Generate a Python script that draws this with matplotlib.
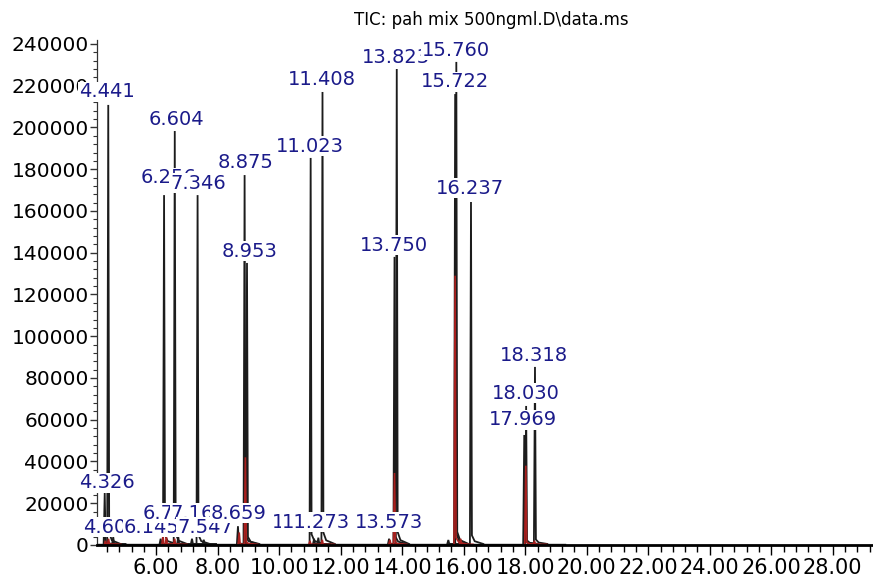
import matplotlib
matplotlib.use("Agg")
import matplotlib.pyplot as plt
from matplotlib.ticker import MultipleLocator, FormatStrFormatter

# labelled peaks of the TIC trace (retention time, apex abundance)
peak_rt = [4.326, 4.441, 4.603, 6.145, 6.256, 6.604, 6.717, 7.164, 7.346, 7.547,
           8.659, 8.875, 8.953, 11.023, 11.135, 11.273, 11.408, 13.573, 13.750,
           13.823, 15.722, 15.760, 16.237, 17.969, 18.030, 18.318]
peak_height = [24900, 210800, 3800, 3000, 167600, 198300, 4000, 3000, 167600, 2500,
               9000, 177200, 135100, 185400, 3000, 3500, 217000, 3000, 138000,
               228000, 216000, 231400, 164300, 52700, 66600, 85300]
peak_label = ["4.326", "4.441", "4.603", "6.145", "6.256", "6.604", "6.717", "7.164",
              "7.346", "7.547", "8.659", "8.875", "8.953", "11.023", "11.135", "11.273",
              "11.408", "13.573", "13.750", "13.823", "15.722", "15.760", "16.237",
              "17.969", "18.030", "18.318"]

# unlabelled bumps of the TIC trace
extra_rt = [15.50]
extra_height = [2400]

# second (red) trace
red_rt = [4.35, 4.45, 6.22, 6.33, 6.60, 8.70, 8.90, 11.00, 11.40, 13.60, 13.75,
          15.72, 15.90, 18.02, 18.30]
red_height = [2000, 3000, 4500, 4000, 3000, 6000, 42000, 2000, 2500, 2500, 34500,
              129000, 3000, 38000, 2000]

run_start, run_end = 4.075, 19.3
title = "TIC: pah mix 500ngml.D\\data.ms"

# where ChemStation put each label (layout only)
label_at = [(4.40, 29700), (4.40, 217000), (4.53, 8600), (5.86, 8600), (6.39, 175900),
            (6.66, 204000), (6.45, 15300), (7.37, 15300), (7.38, 173400), (7.59, 8600),
            (8.69, 15300), (8.92, 183000), (9.02, 140800), (11.00, 191100),
            (10.87, 11000), (11.20, 11000), (11.39, 223200), (13.57, 11000),
            (13.73, 143700), (13.80, 233300), (15.72, 221800), (15.75, 237100),
            (16.20, 171000), (17.94, 59900), (18.03, 72800), (18.30, 91000)]


def spike(ax, rt, h, base, color, lw, z):
    xs = [rt - 0.035, rt, rt + 0.03, rt + 0.12, rt + 0.4]
    ys = [base, h, base + 0.025 * h, base + 0.008 * h, base]
    ax.plot(xs, ys, color=color, lw=lw, zorder=z, solid_joinstyle="miter")


fig = plt.figure(figsize=(8.73, 5.76), dpi=100)
ax = fig.add_axes([97 / 873, 31 / 576, 776 / 873, 505 / 576])

black = "#1c1c1c"
red = "#a8201e"
ax.plot([run_start, run_end], [500, 500], color=black, lw=1, zorder=1)
for rt, h in zip(peak_rt + extra_rt, peak_height + extra_height):
    spike(ax, rt, h, 500, black, 1.3, 1.5)
for rt, h in zip(red_rt, red_height):
    spike(ax, rt, h, 300, red, 1.2, 1.8)

for i, (txt, (lx, ly)) in enumerate(zip(peak_label, label_at)):
    ax.text(lx, ly, txt, ha="center", va="center", fontsize=14, color="#1b1b8a",
            clip_on=False, zorder=3 + i * 0.01,
            bbox=dict(facecolor="white", edgecolor="none", pad=0.5))

ax.set_xlim(run_start, 29.31)
ax.set_ylim(0, 241900)

for s in ["top", "right"]:
    ax.spines[s].set_visible(False)
ax.spines["left"].set_linewidth(0.9)
ax.spines["left"].set_color("#333333")
ax.spines["bottom"].set_linewidth(2)
ax.spines["bottom"].set_color("black")

ax.xaxis.set_major_locator(MultipleLocator(2))
ax.xaxis.set_minor_locator(MultipleLocator(0.4))
ax.xaxis.set_major_formatter(FormatStrFormatter("%.2f"))
ax.yaxis.set_major_locator(MultipleLocator(20000))
ax.yaxis.set_minor_locator(MultipleLocator(4000))

ax.tick_params(axis="x", which="major", direction="out", length=7, width=1,
               labelsize=15, pad=2)
ax.tick_params(axis="x", which="minor", direction="out", length=5, width=1)
ax.tick_params(axis="y", which="major", direction="out", length=5, width=1,
               labelsize=14.5, pad=1, color="#333333")
ax.tick_params(axis="y", which="minor", direction="out", length=3, width=0.8,
               color="#333333")
ax.set_facecolor("white")

fig.text(0.5625, 0.965, title, ha="center", va="center", fontsize=12)

fig.savefig("out.png", dpi=100, facecolor="white")
